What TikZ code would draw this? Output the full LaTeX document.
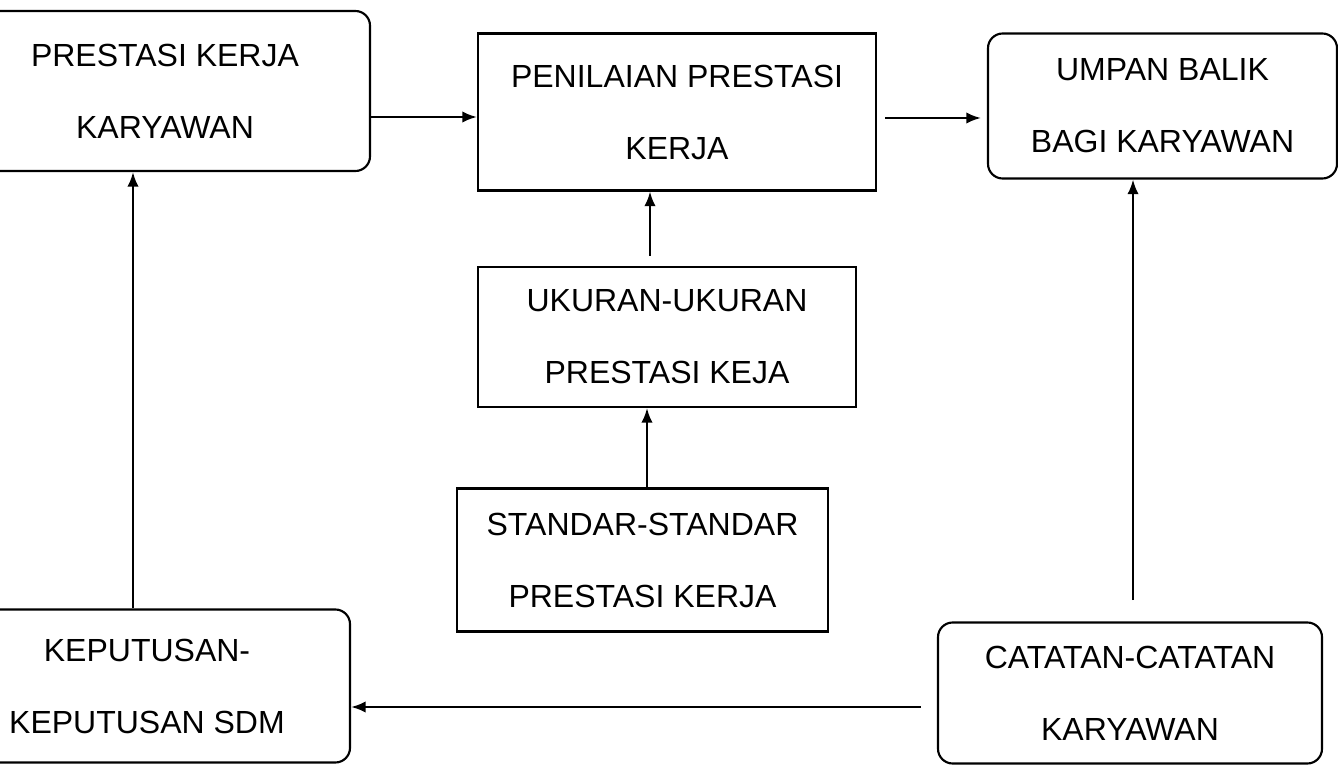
\documentclass[tikz,border=0pt]{standalone}
\usepackage{fontspec}
\setmainfont{Liberation Sans}
\usetikzlibrary{arrows.meta}
\tikzset{
  base/.style={draw=black, line width=1.6pt, align=center, inner sep=0pt,
    font=\fontsize{24}{54}\selectfont, text=black},
  rbox/.style={base, rounded corners=11pt},
  sbox/.style={base},
  arr/.style={line width=1.6pt, -{Latex[length=11pt,width=8.5pt]}}
}
\begin{document}
\begin{tikzpicture}[x=0.75pt,y=-0.75pt]
\useasboundingbox (0,0) rectangle (1338,766);
\clip (0,0) rectangle (1338,766);
% boxes
\node[rbox, minimum width=410*0.75pt, minimum height=160*0.75pt] (b1) at (165,91) {PRESTASI KERJA\\KARYAWAN};
\node[sbox, minimum width=398*0.75pt, minimum height=157*0.75pt] (b2) at (677,112) {PENILAIAN PRESTASI\\KERJA};
\node[rbox, minimum width=349*0.75pt, minimum height=145*0.75pt] (b3) at (1162.5,106) {UMPAN BALIK\\BAGI KARYAWAN};
\node[sbox, minimum width=378*0.75pt, minimum height=140*0.75pt] (b4) at (667,337) {UKURAN-UKURAN\\PRESTASI KEJA};
\node[sbox, minimum width=371*0.75pt, minimum height=143*0.75pt] (b5) at (642.5,560) {STANDAR-STANDAR\\PRESTASI KERJA};
\node[rbox, minimum width=406*0.75pt, minimum height=153*0.75pt] (b6) at (147,686) {KEPUTUSAN-\\KEPUTUSAN SDM};
\node[rbox, minimum width=384*0.75pt, minimum height=141*0.75pt] (b7) at (1130,693) {CATATAN-CATATAN\\KARYAWAN};
% connectors
\draw[arr] (b1.east |- 0,117) -- (b2.west |- 0,117);
\draw[arr, shorten <=6pt, shorten >=4.5pt] (b2.east |- 0,118) -- (b3.west |- 0,118);
\draw[arr, shorten <=7.5pt] (b4.north -| 650,0) -- (b2.south -| 650,0);
\draw[arr] (b5.north -| 647,0) -- (b4.south -| 647,0);
\draw[arr] (b6.north -| 133,0) -- (b1.south -| 133,0);
\draw[arr, shorten <=16pt] (b7.north -| 1133,0) -- (b3.south -| 1133,0);
\draw[arr, shorten <=12pt] (b7.west |- 0,707) -- (b6.east |- 0,707);
\end{tikzpicture}
\end{document}
